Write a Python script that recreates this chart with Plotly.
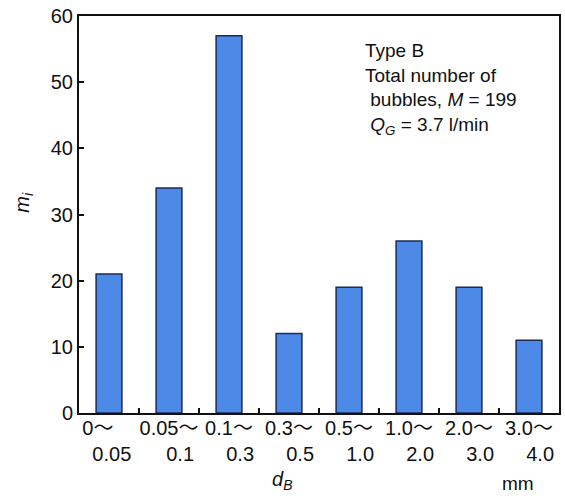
import plotly.graph_objects as go

# Bubble diameter classes (mm) and bubble counts per class
bin_lower = ["0", "0.05", "0.1", "0.3", "0.5", "1.0", "2.0", "3.0"]
bin_upper = ["0.05", "0.1", "0.3", "0.5", "1.0", "2.0", "3.0", "4.0"]
counts = [21, 34, 57, 12, 19, 26, 19, 11]
y_ticks = [0, 10, 20, 30, 40, 50, 60]

categories = [f"{lo}～{hi}" for lo, hi in zip(bin_lower, bin_upper)]
NB = "\u00a0"
WAVE = '<span style="font-family:Noto Sans CJK JP">～</span>'


def class_label(i, lo, hi):
    # upper bound sits a little right of the lower bound; the first class
    # label is nudged left so it clears the axis corner
    if i == 0:
        return f"{lo}{WAVE}{NB * 4}<br>{NB}{hi}"
    return f"{lo}{WAVE}<br>{NB * 4}{hi}"


tick_text = [class_label(i, lo, hi) for i, (lo, hi) in enumerate(zip(bin_lower, bin_upper))]

FONT = "Liberation Sans, Arial, sans-serif"

fig = go.Figure(
    go.Bar(
        x=categories,
        y=counts,
        marker=dict(color="#4d8ae8", line=dict(color="#1c2c55", width=1.5)),
    )
)

fig.update_layout(
    width=565,
    height=501,
    margin=dict(l=79, r=4, t=16, b=88),
    paper_bgcolor="white",
    plot_bgcolor="white",
    bargap=0.57,
    showlegend=False,
    font=dict(family=FONT, size=20, color="#111"),
)

fig.update_xaxes(
    type="category",
    tickmode="array",
    tickvals=categories,
    ticktext=tick_text,
    tickson="boundaries",
    tickangle=0,
    ticks="inside",
    ticklen=5,
    tickwidth=1.5,
    tickcolor="#111",
    ticklabelstandoff=-4,
    showline=True,
    linecolor="#111",
    linewidth=2,
    mirror=True,
    showgrid=False,
    tickfont=dict(size=20),
)

fig.update_yaxes(
    range=[0, 60],
    tickvals=y_ticks,
    ticks="inside",
    ticklen=5,
    tickwidth=1.5,
    tickcolor="#111",
    showline=True,
    linecolor="#111",
    linewidth=2,
    mirror=True,
    showgrid=False,
    zeroline=False,
    tickfont=dict(size=20),
)

total = sum(counts)
fig.add_annotation(
    xref="paper", yref="paper", x=(364 - 79) / 482, y=1 - (38 - 16) / 396,
    xanchor="left", yanchor="top", align="left", showarrow=False,
    text=(
        "Type B<br>Total number of<br>"
        f"{NB}bubbles, <i>M</i> = {total}<br>"
        f"{NB}<i>Q</i><sub><i>G</i></sub> = 3.7 l/min"
    ),
    font=dict(size=19, family=FONT),
)

# axis titles
fig.add_annotation(
    xref="paper", yref="paper", x=-56 / 482, y=1 - (202 - 16) / 396,
    xanchor="center", yanchor="middle", showarrow=False, textangle=-90,
    text="<i>m<sub>i</sub></i>", font=dict(size=20, family=FONT),
)
fig.add_annotation(
    xref="paper", yref="paper", x=(283 - 79) / 482, y=-(479 - 412) / 396,
    xanchor="center", yanchor="middle", showarrow=False,
    text="<i>d<sub>B</sub></i>", font=dict(size=20, family=FONT),
)
fig.add_annotation(
    xref="paper", yref="paper", x=(520 - 79) / 482, y=-(482 - 412) / 396,
    xanchor="center", yanchor="middle", showarrow=False,
    text="mm", font=dict(size=19, family=FONT),
)

fig.write_html("out.html")
